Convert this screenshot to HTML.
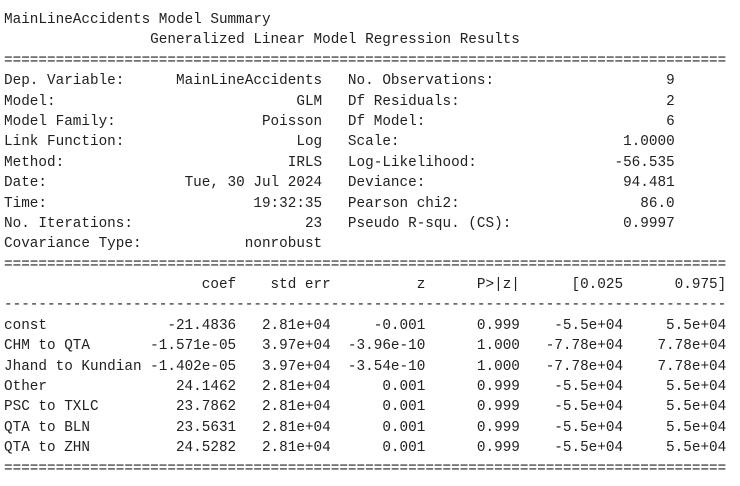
<!DOCTYPE html>
<html><head><meta charset="utf-8"><style>
html,body{margin:0;padding:0;background:#fff;width:740px;height:486px;overflow:hidden}
#sum{position:absolute;left:4px;top:10px;font-family:"Liberation Mono","DejaVu Sans Mono",monospace;font-size:14.33px;color:#212121;width:84ch}
.L{position:relative;height:20.4px;line-height:20.4px;white-space:pre}
.L span{position:absolute;top:0;white-space:pre}
</style></head><body>
<div id="sum">
<div class="L"><span style="left:0">MainLineAccidents Model Summary</span></div>
<div class="L"><span style="left:17ch">Generalized Linear Model Regression Results</span></div>
<div class="L"><span style="left:0">====================================================================================</span></div>

<div class="L"><span style="left:0">Dep. Variable:</span><span style="right:47ch">MainLineAccidents</span><span style="left:40ch">No. Observations:</span><span style="right:6ch">9</span></div>
<div class="L"><span style="left:0">Model:</span><span style="right:47ch">GLM</span><span style="left:40ch">Df Residuals:</span><span style="right:6ch">2</span></div>
<div class="L"><span style="left:0">Model Family:</span><span style="right:47ch">Poisson</span><span style="left:40ch">Df Model:</span><span style="right:6ch">6</span></div>
<div class="L"><span style="left:0">Link Function:</span><span style="right:47ch">Log</span><span style="left:40ch">Scale:</span><span style="right:6ch">1.0000</span></div>
<div class="L"><span style="left:0">Method:</span><span style="right:47ch">IRLS</span><span style="left:40ch">Log-Likelihood:</span><span style="right:6ch">-56.535</span></div>
<div class="L"><span style="left:0">Date:</span><span style="right:47ch">Tue, 30 Jul 2024</span><span style="left:40ch">Deviance:</span><span style="right:6ch">94.481</span></div>
<div class="L"><span style="left:0">Time:</span><span style="right:47ch">19:32:35</span><span style="left:40ch">Pearson chi2:</span><span style="right:6ch">86.0</span></div>
<div class="L"><span style="left:0">No. Iterations:</span><span style="right:47ch">23</span><span style="left:40ch">Pseudo R-squ. (CS):</span><span style="right:6ch">0.9997</span></div>
<div class="L"><span style="left:0">Covariance Type:</span><span style="right:47ch">nonrobust</span></div>

<div class="L"><span style="left:0">====================================================================================</span></div>
<div class="L"><span style="right:57ch">coef</span><span style="right:46ch">std err</span><span style="right:35ch">z</span><span style="right:24ch">P&gt;|z|</span><span style="right:12ch">[0.025</span><span style="right:0">0.975]</span></div>
<div class="L"><span style="left:0">------------------------------------------------------------------------------------</span></div>

<div class="L"><span style="left:0">const</span><span style="right:57ch">-21.4836</span><span style="right:46ch">2.81e+04</span><span style="right:35ch">-0.001</span><span style="right:24ch">0.999</span><span style="right:12ch">-5.5e+04</span><span style="right:0">5.5e+04</span></div>
<div class="L"><span style="left:0">CHM to QTA</span><span style="right:57ch">-1.571e-05</span><span style="right:46ch">3.97e+04</span><span style="right:35ch">-3.96e-10</span><span style="right:24ch">1.000</span><span style="right:12ch">-7.78e+04</span><span style="right:0">7.78e+04</span></div>
<div class="L"><span style="left:0">Jhand to Kundian</span><span style="right:57ch">-1.402e-05</span><span style="right:46ch">3.97e+04</span><span style="right:35ch">-3.54e-10</span><span style="right:24ch">1.000</span><span style="right:12ch">-7.78e+04</span><span style="right:0">7.78e+04</span></div>
<div class="L"><span style="left:0">Other</span><span style="right:57ch">24.1462</span><span style="right:46ch">2.81e+04</span><span style="right:35ch">0.001</span><span style="right:24ch">0.999</span><span style="right:12ch">-5.5e+04</span><span style="right:0">5.5e+04</span></div>
<div class="L"><span style="left:0">PSC to TXLC</span><span style="right:57ch">23.7862</span><span style="right:46ch">2.81e+04</span><span style="right:35ch">0.001</span><span style="right:24ch">0.999</span><span style="right:12ch">-5.5e+04</span><span style="right:0">5.5e+04</span></div>
<div class="L"><span style="left:0">QTA to BLN</span><span style="right:57ch">23.5631</span><span style="right:46ch">2.81e+04</span><span style="right:35ch">0.001</span><span style="right:24ch">0.999</span><span style="right:12ch">-5.5e+04</span><span style="right:0">5.5e+04</span></div>
<div class="L"><span style="left:0">QTA to ZHN</span><span style="right:57ch">24.5282</span><span style="right:46ch">2.81e+04</span><span style="right:35ch">0.001</span><span style="right:24ch">0.999</span><span style="right:12ch">-5.5e+04</span><span style="right:0">5.5e+04</span></div>
<div class="L"><span style="left:0">====================================================================================</span></div>
</div>
</body></html>
